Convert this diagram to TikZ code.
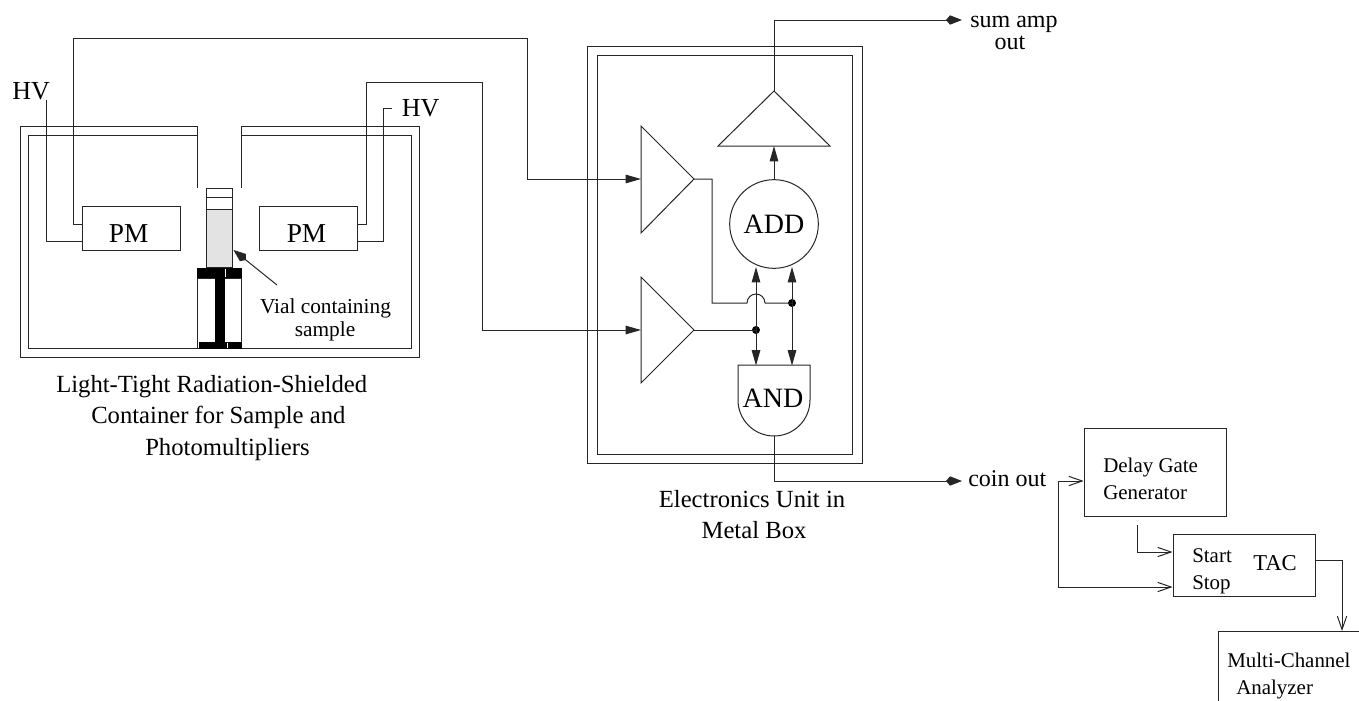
\documentclass[tikz,border=0pt]{standalone}
\usepackage{fontspec}
\setmainfont{Liberation Serif}
\usetikzlibrary{arrows.meta}
\tikzset{
  x=0.75pt,y=-0.75pt,
  wire/.style={line width=0.75pt,black!85},
  sig/.style={wire,-{Triangle[length=11.5pt,width=6.4pt]}},
  kiteend/.style={wire,-{Kite[length=12pt,width=7pt,inset=3pt]}},
  open/.style={wire,-{Straight Barb[length=10pt,width=7pt]}},
  box/.style={draw=black!85,line width=0.75pt,inner sep=0pt,fill=white},
  big/.style={font=\fontsize{20.5pt}{22pt}\selectfont,inner sep=0pt,anchor=base},
  hv/.style={font=\fontsize{19.5pt}{22pt}\selectfont,inner sep=0pt},
  lab/.style={font=\fontsize{18.5pt}{20pt}\selectfont,inner sep=0pt,anchor=base},
  mid/.style={font=\fontsize{18pt}{20pt}\selectfont,inner sep=0pt},
  vl/.style={font=\fontsize{16pt}{18pt}\selectfont,inner sep=0pt,anchor=base},
  small/.style={font=\fontsize{15.7pt}{18pt}\selectfont,inner sep=0pt,anchor=base west},
  dot/.style={circle,fill=black,inner sep=0pt,minimum size=6pt},
}
\begin{document}
\begin{tikzpicture}
\useasboundingbox (0,0) rectangle (1359,700);
\clip (0,0) rectangle (1359,700);
% container
\draw[wire] (197.5,188) -- (197.5,126) -- (20,126) -- (20,357) -- (419,357) -- (419,126) -- (241,126) -- (241,188);
\draw[wire] (197.5,135) -- (28.5,135) -- (28.5,348) -- (411,348) -- (411,135) -- (241,135);
% PMs
\node[box,minimum width=73.5pt,minimum height=33pt] (pmL) at (131,228) {};
\node[box,minimum width=73.5pt,minimum height=33pt] (pmR) at (308,228) {};
\node[big] (pmLt) at (128.7,242) {PM};
\node[big] (pmRt) at (306.5,242) {PM};
% vial
\node[box,minimum width=20.2pt,minimum height=6.75pt] (vialA) at (219.5,192.5) {};
\node[box,minimum width=20.2pt,minimum height=9pt] (vialB) at (219.5,203) {};
\node[box,fill=black!11,minimum width=20.2pt,minimum height=43.5pt] (vialC) at (219.5,238) {};
% stand
\draw[wire] (197.5,278) rectangle (241,348);
\fill (197,268) rectangle (241.5,277.5);
\fill (199,342) rectangle (241.5,348.5);
\fill (215,277) rectangle (224.5,342);
\draw[white,line width=0.6pt] (225.7,269) -- (225.7,276.5) (227.3,342.5) -- (227.3,348);
% vial label
\coordinate (vialTail) at (277,285);
\draw[kiteend] (vialTail) -- (vialC.east |- 0,250);
\node[vl] (vialLab) at (325.5,313) {Vial containing};
\node[vl] (vialLab2) at (325,336) {sample};
\node[lab,anchor=base west] (contA) at (56,392) {Light-Tight Radiation-Shielded};
\node[lab,anchor=base west] (contB) at (91,423) {Container for Sample and};
\node[lab,anchor=base west] (contC) at (145,455) {Photomultipliers};
% HV
\node[hv,anchor=base west] (hvL) at (12,99) {HV};
\node[hv,anchor=base west] (hvR) at (401.5,116) {HV};
\coordinate (hvLend) at (46.5,100);
\coordinate (hvRend) at (392,108);
\draw[wire] (hvLend) -- (46.5,241) -- (pmL.west |- 0,241);
\draw[wire] (hvRend) -- (383,108) -- (383,241) -- (pmR.east |- 0,241);
% electronics box
\draw[wire] (587,46) rectangle (862,463.5);
\draw[wire] (597,55) rectangle (852,454);
% amps
\draw[box,fill=none] (641,126) -- (694,179) -- (641,233) -- cycle;
\coordinate (ampAin) at (641,179);
\coordinate (ampAout) at (694,179);
\draw[box,fill=none] (641,277) -- (694,330) -- (641,383) -- cycle;
\coordinate (ampBin) at (641,330);
\coordinate (ampBout) at (694,330);
\draw[sig] (pmL.west |- 0,224) -- (73,224) -- (73,38) -- (527,38) -- (527,179) -- (ampAin);
\draw[sig] (pmR.east |- 0,224) -- (366,224) -- (366,82) -- (482,82) -- (482,330) -- (ampBin);
% sum amp
\draw[box,fill=none] (718,146) -- (830,146) -- (774,91) -- cycle;
\coordinate (sumIn) at (774,146);
\coordinate (sumOut) at (774,91);
\node[draw=black!85,line width=0.75pt,circle,minimum size=66.5pt,inner sep=0pt,font=\fontsize{21pt}{22pt}\selectfont] (add) at (774,224) {ADD};
\draw[sig] (add.north) -- (sumIn);
% AND
\draw[wire] (738,365) -- (810,365) -- (810,400) arc[start angle=0,end angle=180,x radius=36,y radius=36] -- cycle;
\node[big,font=\fontsize{21pt}{22pt}\selectfont] (and) at (773,407) {AND};
\coordinate (andBot) at (774,436);
\coordinate (andTopL) at (756,365.5);
\coordinate (andTopR) at (792,365.5);
\coordinate (addL) at (756,267);
\coordinate (addR) at (792,267);
% junctions
\node[dot] (jB) at (756,330) {};
\node[dot] (jA) at (792,303) {};
\draw[wire] (ampAout) -- (712,179) -- (712,303) -- (747,303) arc[start angle=180,end angle=0,x radius=9,y radius=-9] -- (jA.center);
\draw[wire] (ampBout) -- (jB.center);
\draw[sig] (jB.center) -- (addL);
\draw[sig] (jB.center) -- (andTopL);
\draw[sig] (jA.center) -- (addR);
\draw[sig] (jA.center) -- (andTopR);
% outputs
\node[mid,anchor=base west] (sumLab) at (970,27) {sum amp};
\node[mid,anchor=base] (sumLab2) at (1010,49) {out};
\coordinate (sumTip) at (962,20);
\draw[kiteend] (sumOut) -- (774,20) -- (sumTip);
\node[mid,anchor=base west] (coinLab) at (968,486) {coin out};
\coordinate (coinTip) at (962,481);
\draw[kiteend] (andBot) -- (774,481) -- (coinTip);
\node[lab] (elecA) at (752,507) {Electronics Unit in};
\node[lab] (elecB) at (754,538) {Metal Box};
% right side
\node[box,minimum width=107pt,minimum height=66pt] (delay) at (1155.5,472) {};
\node[small] (delayA) at (1103,472) {Delay Gate};
\node[small] (delayB) at (1103,499) {Generator};
\node[box,minimum width=106.5pt,minimum height=46.5pt] (tac) at (1244,565) {};
\node[small] (start) at (1192,562) {Start};
\node[small] (stop) at (1192,589) {Stop};
\node[small,font=\fontsize{17pt}{18pt}\selectfont] (tacLab) at (1253,570) {TAC};
\coordinate (loop) at (1058,481);
\draw[open] (loop) -- (delay.west |- loop);
\draw[open] (loop) -- (1058,587) -- (tac.west |- 0,587);
\coordinate (delayOut) at (1137,525);
\draw[open] (delayOut) -- (1137,552) -- (tac.west |- 0,552);
\coordinate (mcaTop) at (1342,631);
\draw[open] (tac.east |- 0,560) -- (1342,560) -- (mcaTop);
\draw[wire] (1218,705) -- (1218,631) -- (1365,631);
\node[small] (mca1) at (1227,667) {Multi-Channel};
\node[small] (mca2) at (1236,694) {Analyzer};
\end{tikzpicture}
\end{document}
